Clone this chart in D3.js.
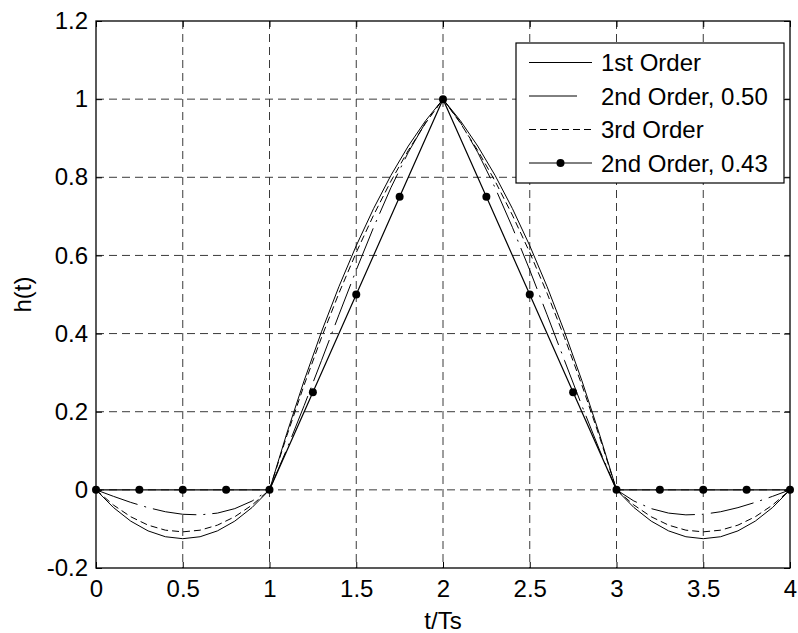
<!DOCTYPE html>
<html lang="en">
<head>
    <meta charset="utf-8">
    <title>Interpolation kernels</title>
    <script src="https://cdn.jsdelivr.net/npm/d3@7"></script>
    <style>
        body { margin: 0; background: #fff; }
        text { font-family: "Liberation Sans", Arial, sans-serif; fill: #000; }
    </style>
</head>
<body>
<script>
    //	Data

    const tVals = [0, 0.1, 0.2, 0.3, 0.4, 0.5, 0.6, 0.7, 0.8, 0.9, 1, 1.1, 1.2, 1.3, 1.4, 1.5, 1.6, 1.7, 1.8, 1.9, 2,
        2.1, 2.2, 2.3, 2.4, 2.5, 2.6, 2.7, 2.8, 2.9, 3, 3.1, 3.2, 3.3, 3.4, 3.5, 3.6, 3.7, 3.8, 3.9, 4];

    // solid curve (deepest dip)
    const firstOrder = [0, -0.045, -0.08, -0.105, -0.12, -0.125, -0.12, -0.105, -0.08, -0.045, 0,
        0.145, 0.28, 0.405, 0.52, 0.625, 0.72, 0.805, 0.88, 0.945, 1,
        0.945, 0.88, 0.805, 0.72, 0.625, 0.52, 0.405, 0.28, 0.145, 0,
        -0.045, -0.08, -0.105, -0.12, -0.125, -0.12, -0.105, -0.08, -0.045, 0];

    // dash-dot curve (shallow dip)
    const secondOrder50 = [0, -0.0165, -0.032, -0.0455, -0.056, -0.0625, -0.064, -0.0595, -0.048, -0.0285, 0,
        0.1045, 0.216, 0.3315, 0.448, 0.5625, 0.672, 0.7735, 0.864, 0.9405, 1,
        0.9405, 0.864, 0.7735, 0.672, 0.5625, 0.448, 0.3315, 0.216, 0.1045, 0,
        -0.0285, -0.048, -0.0595, -0.064, -0.0625, -0.056, -0.0455, -0.032, -0.0165, 0];

    // dashed curve
    const thirdOrder = [0, -0.0387, -0.0688, -0.0903, -0.1032, -0.1075, -0.1032, -0.0903, -0.0688, -0.0387, 0,
        0.1387, 0.2688, 0.3903, 0.5032, 0.6075, 0.7032, 0.7903, 0.8688, 0.9387, 1,
        0.9387, 0.8688, 0.7903, 0.7032, 0.6075, 0.5032, 0.3903, 0.2688, 0.1387, 0,
        -0.0387, -0.0688, -0.0903, -0.1032, -0.1075, -0.1032, -0.0903, -0.0688, -0.0387, 0];

    // line with dots
    const dotT = [0, 0.25, 0.5, 0.75, 1, 1.25, 1.5, 1.75, 2, 2.25, 2.5, 2.75, 3, 3.25, 3.5, 3.75, 4];
    const secondOrder43 = [0, 0, 0, 0, 0, 0.25, 0.5, 0.75, 1, 0.75, 0.5, 0.25, 0, 0, 0, 0, 0];

    const xTicks = [0, 0.5, 1, 1.5, 2, 2.5, 3, 3.5, 4];
    const xTickLabels = ["0", "0.5", "1", "1.5", "2", "2.5", "3", "3.5", "4"];
    const yTicks = [-0.2, 0, 0.2, 0.4, 0.6, 0.8, 1, 1.2];
    const yTickLabels = ["-0.2", "0", "0.2", "0.4", "0.6", "0.8", "1", "1.2"];

    const legendNames = ["1st Order", "2nd Order, 0.50", "3rd Order", "2nd Order, 0.43"];

    //	Layout

    const width = 798, height = 633;
    const plotLeft = 96, plotRight = 790, plotTop = 21, plotBottom = 568;
    const fontSize = 24;

    const svg = d3.select("body").append("svg")
        .attr("width", width)
        .attr("height", height);

    const x = d3.scaleLinear().domain([0, 4]).range([plotLeft, plotRight]);
    const y = d3.scaleLinear().domain([-0.2, 1.2]).range([plotBottom, plotTop]);

    //	Grid

    const grid = svg.append("g")
        .attr("stroke", "#3a3a3a")
        .attr("stroke-width", 1)
        .attr("stroke-dasharray", "8,5");

    grid.selectAll(".vg").data(xTicks.slice(1, -1)).enter().append("line")
        .attr("x1", d => x(d)).attr("x2", d => x(d))
        .attr("y1", plotTop).attr("y2", plotBottom);

    grid.selectAll(".hg").data(yTicks.slice(1, -1)).enter().append("line")
        .attr("x1", plotLeft).attr("x2", plotRight)
        .attr("y1", d => y(d)).attr("y2", d => y(d));

    //	Axes

    const styleAxis = g => {
        g.select(".domain").remove();
        g.selectAll("line").attr("stroke", "#000");
        g.selectAll("text").style("font-size", fontSize + "px")
            .style("font-family", '"Liberation Sans", Arial, sans-serif');
    };

    svg.append("g")
        .attr("transform", `translate(0,${plotBottom})`)
        .call(d3.axisBottom(x).tickValues(xTicks).tickFormat((d, i) => xTickLabels[i])
            .tickSizeInner(-6).tickSizeOuter(0).tickPadding(12))
        .call(styleAxis);

    svg.append("g")
        .attr("transform", `translate(0,${plotTop})`)
        .call(d3.axisTop(x).tickValues(xTicks).tickFormat("")
            .tickSizeInner(-6).tickSizeOuter(0))
        .call(styleAxis);

    svg.append("g")
        .attr("transform", `translate(${plotLeft},0)`)
        .call(d3.axisLeft(y).tickValues(yTicks).tickFormat((d, i) => yTickLabels[i])
            .tickSizeInner(-6).tickSizeOuter(0).tickPadding(8))
        .call(styleAxis);

    svg.append("g")
        .attr("transform", `translate(${plotRight},0)`)
        .call(d3.axisRight(y).tickValues(yTicks).tickFormat("")
            .tickSizeInner(-6).tickSizeOuter(0))
        .call(styleAxis);

    //	Curves

    const line = d3.line()
        .x(d => x(d[0]))
        .y(d => y(d[1]));

    const series = [
        {vals: firstOrder, dash: null},
        {vals: secondOrder50, dash: "44,7,2,7"},
        {vals: thirdOrder, dash: "7,4"}
    ];

    series.forEach(s => {
        svg.append("path")
            .datum(tVals.map((t, i) => [t, s.vals[i]]))
            .attr("fill", "none")
            .attr("stroke", "#000")
            .attr("stroke-width", 1)
            .attr("stroke-dasharray", s.dash)
            .attr("d", line);
    });

    const dotData = dotT.map((t, i) => [t, secondOrder43[i]]);
    svg.append("path")
        .datum(dotData)
        .attr("fill", "none")
        .attr("stroke", "#000")
        .attr("stroke-width", 1.2)
        .attr("d", line);

    svg.selectAll(".dot").data(dotData).enter().append("circle")
        .attr("cx", d => x(d[0]))
        .attr("cy", d => y(d[1]))
        .attr("r", 4)
        .attr("fill", "#000");

    //	Box

    svg.append("rect")
        .attr("x", plotLeft).attr("y", plotTop)
        .attr("width", plotRight - plotLeft).attr("height", plotBottom - plotTop)
        .attr("fill", "none")
        .attr("stroke", "#000")
        .attr("stroke-width", 1.3);

    //	Labels

    svg.append("text")
        .attr("x", (plotLeft + plotRight) / 2)
        .attr("y", 629)
        .attr("text-anchor", "middle")
        .style("font-size", fontSize + "px")
        .text("t/Ts");

    svg.append("text")
        .attr("transform", `translate(31,${(plotTop + plotBottom) / 2}) rotate(-90)`)
        .attr("text-anchor", "middle")
        .style("font-size", fontSize + "px")
        .text("h(t)");

    //	Legend

    const legend = svg.append("g");
    legend.append("rect")
        .attr("x", 516).attr("y", 43)
        .attr("width", 268).attr("height", 140)
        .attr("fill", "#fff")
        .attr("stroke", "#000")
        .attr("stroke-width", 1.2);

    const legendDash = [null, "48,15,1.5,20", "7,4", null];
    const rowY = i => 62.5 + i * 33.5;

    legendNames.forEach((name, i) => {
        legend.append("line")
            .attr("x1", 529).attr("x2", 592)
            .attr("y1", rowY(i)).attr("y2", rowY(i))
            .attr("stroke", "#000")
            .attr("stroke-width", 1)
            .attr("stroke-dasharray", legendDash[i]);
        if (i === 3) {
            legend.append("circle")
                .attr("cx", 560.5).attr("cy", rowY(i))
                .attr("r", 4).attr("fill", "#000");
        }
        legend.append("text")
            .attr("x", 601)
            .attr("y", rowY(i))
            .attr("dy", "0.37em")
            .style("font-size", fontSize + "px")
            .text(name);
    });
</script>
</body>
</html>
